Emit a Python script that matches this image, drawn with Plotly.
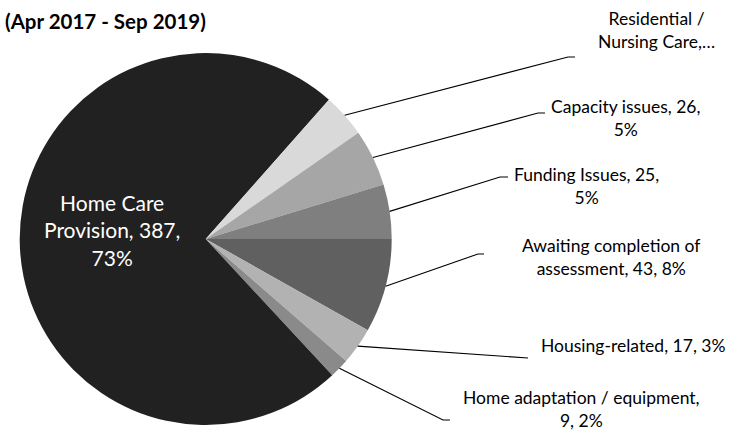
import math
import plotly.graph_objects as go

# ---- data (clockwise from 3 o'clock) ----
categories = [
    "Awaiting completion of assessment",
    "Housing-related",
    "Home adaptation / equipment",
    "Home Care Provision",
    "Residential / Nursing Care",
    "Capacity issues",
    "Funding Issues",
]
values = [43, 17, 9, 387, 20, 26, 25]
label_texts = [
    "Awaiting completion of<br>assessment, 43, 8%",
    "Housing-related, 17, 3%",
    "Home adaptation / equipment,<br>9, 2%",
    "Home Care<br>Provision, 387,<br>73%",
    "Residential /<br>Nursing Care,…",
    "Capacity issues, 26,<br>5%",
    "Funding Issues, 25,<br>5%",
]
colors = ["#606060", "#b2b2b2", "#8a8a8a", "#212121", "#d9d9d9", "#a6a6a6", "#7f7f7f"]

W, H = 733, 430
CX, CY, R = 205.7, 239.0, 186.0
FONT = "Lato"

# label layout (pixel positions): text centre, leader end (elbow), leader tail end
label_pos = {
    "Awaiting completion of assessment": dict(tx=611, ty=257, ex=478, ey=254, hx=484),
    "Housing-related": dict(tx=633, ty=345, ex=528, ey=358, hx=None),
    "Home adaptation / equipment": dict(tx=581, ty=409, ex=443, ey=420, hx=450),
    "Home Care Provision": dict(tx=112, ty=230, ex=None, ey=None, hx=None),
    "Residential / Nursing Care": dict(tx=656, ty=30, ex=568, ey=57, hx=575),
    "Capacity issues": dict(tx=625, ty=118, ex=538, ey=113, hx=545),
    "Funding Issues": dict(tx=586, ty=186, ex=500, ey=177, hx=508),
}

def px(x):
    return x / W

def py(y):
    return 1 - y / H

fig = go.Figure(go.Pie(
    labels=categories,
    values=values,
    sort=False,
    direction="clockwise",
    rotation=90,
    marker=dict(colors=colors, line=dict(width=0)),
    textinfo="none",
    hoverinfo="label+value+percent",
    domain=dict(x=[px(CX - R), px(CX + R)], y=[py(CY + R), py(CY - R)]),
    showlegend=False,
))

total = sum(values)
annotations = []
shapes = []
cum = 0
for cat, v, txt in zip(categories, values, label_texts):
    mid = (cum + v / 2) / total * 2 * math.pi
    cum += v
    p = label_pos[cat]
    inside = cat == "Home Care Provision"
    annotations.append(dict(
        x=px(p["tx"]), y=py(p["ty"]), xref="paper", yref="paper",
        text=txt, showarrow=False, xanchor="center", yanchor="middle",
        align="center",
        font=dict(family=FONT, size=21 if inside else 17.5,
                  color="white" if inside else "#000000"),
    ))
    if p["ex"] is not None:
        sx = CX + R * math.cos(mid)
        sy = CY + R * math.sin(mid)
        path = f"M {px(sx)} {py(sy)} L {px(p['ex'])} {py(p['ey'])}"
        if p["hx"] is not None:
            path += f" L {px(p['hx'])} {py(p['ey'])}"
        shapes.append(dict(type="path", path=path, xref="paper", yref="paper",
                           line=dict(color="#000000", width=1.1)))

annotations.append(dict(
    x=px(3), y=py(21), xref="paper", yref="paper",
    text="<b>(Apr 2017 - Sep 2019)</b>", showarrow=False,
    xanchor="left", yanchor="middle",
    font=dict(family=FONT, size=20.5, color="#000000"),
))

fig.update_layout(
    width=W, height=H,
    margin=dict(l=0, r=0, t=0, b=0),
    paper_bgcolor="white",
    plot_bgcolor="white",
    annotations=annotations,
    shapes=shapes,
)

fig.write_html("out.html", config={"displayModeBar": False},
               post_script="document.body.style.margin='0';")
